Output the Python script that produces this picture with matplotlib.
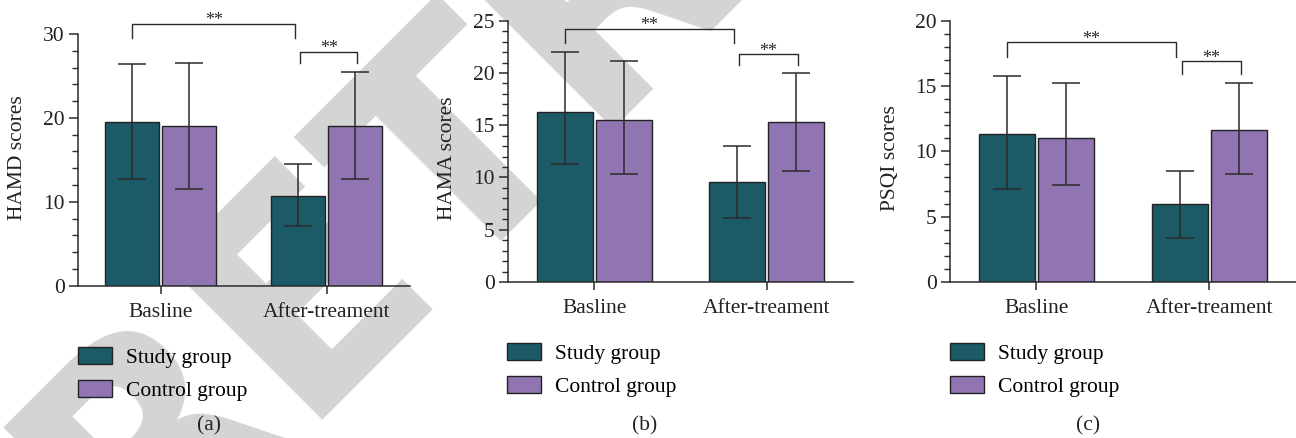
import numpy as np
import matplotlib
matplotlib.use("Agg")
import matplotlib.pyplot as plt
from matplotlib.patches import Patch
from matplotlib.ticker import MultipleLocator

# data (bar height, error bar low end, error bar high end)
groups = ["Basline", "After-treament"]
series = ["Study group", "Control group"]

hamd_study = [19.5, 10.75]
hamd_study_lo = [12.75, 7.15]
hamd_study_hi = [26.4, 14.5]
hamd_ctrl = [19.0, 19.0]
hamd_ctrl_lo = [11.5, 12.75]
hamd_ctrl_hi = [26.6, 25.5]

hama_study = [16.25, 9.6]
hama_study_lo = [11.3, 6.1]
hama_study_hi = [22.0, 13.0]
hama_ctrl = [15.5, 15.3]
hama_ctrl_lo = [10.35, 10.65]
hama_ctrl_hi = [21.15, 20.0]

psqi_study = [11.3, 6.0]
psqi_study_lo = [7.15, 3.4]
psqi_study_hi = [15.75, 8.5]
psqi_ctrl = [11.0, 11.6]
psqi_ctrl_lo = [7.4, 8.3]
psqi_ctrl_hi = [15.25, 15.25]

STUDY = "#1b5a66"
CTRL = "#9175b2"
INK = "#2b2b2b"
FS = 15.5

plt.rcParams["font.family"] = ["Liberation Serif", "DejaVu Serif"]
plt.rcParams["axes.linewidth"] = 1.1
plt.rcParams["axes.edgecolor"] = INK

fig = plt.figure(figsize=(12.96, 4.38), dpi=100)

# grey RETRACTED watermark behind everything
fig.text(0.1016, -0.3318, "RETRACTED", rotation=45, rotation_mode="anchor",
         ha="left", va="baseline", fontsize=217, fontweight="bold", color="#d4d4d4",
         family="DejaVu Sans", zorder=-10)

panels = [
    dict(rect=[0.0600, 0.3477, 0.2564, 0.5747], ylabel="HAMD scores", ymax=30, major=10, minor=2,
         study=(hamd_study, hamd_study_lo, hamd_study_hi), ctrl=(hamd_ctrl, hamd_ctrl_lo, hamd_ctrl_hi),
         big=(29.55, 31.2), small=(26.6, 27.85), ylx=18, tag="(a)", tagx=209, legx=78, legy=347),
    dict(rect=[0.3920, 0.3562, 0.2660, 0.5965], ylabel="HAMA scores", ymax=25, major=5, minor=1,
         study=(hama_study, hama_study_lo, hama_study_hi), ctrl=(hama_ctrl, hama_ctrl_lo, hama_ctrl_hi),
         big=(22.85, 24.2), small=(20.75, 21.8), ylx=448, tag="(b)", tagx=645, legx=507, legy=343),
    dict(rect=[0.7330, 0.3562, 0.2670, 0.5965], ylabel="PSQI scores", ymax=20, major=5, minor=1,
         study=(psqi_study, psqi_study_lo, psqi_study_hi), ctrl=(psqi_ctrl, psqi_ctrl_lo, psqi_ctrl_hi),
         big=(17.25, 18.35), small=(15.9, 16.9), ylx=891, tag="(c)", tagx=1088, legx=950, legy=343),
]

x = np.arange(len(groups))
w = 0.325
off = w / 2 + 0.009

for p in panels:
    ax = fig.add_axes(p["rect"])
    ax.set_facecolor("none")
    for vals, xs, col in [(p["study"], x - off, STUDY), (p["ctrl"], x + off, CTRL)]:
        h, lo, hi = (np.array(v) for v in vals)
        ax.bar(xs, h, width=w, color=col, edgecolor="#222222", linewidth=1.0, zorder=2)
        ax.errorbar(xs, h, yerr=[h - lo, hi - h], fmt="none", ecolor=INK,
                    elinewidth=1.1, capsize=10, capthick=1.1, zorder=3)

    ax.set_xlim(-0.5, 1.5)
    ax.set_ylim(0, p["ymax"])
    ax.yaxis.set_major_locator(MultipleLocator(p["major"]))
    ax.yaxis.set_minor_locator(MultipleLocator(p["minor"]))
    ax.set_xticks(x)
    ax.set_xticklabels(groups)
    ax.spines["top"].set_visible(False)
    ax.spines["right"].set_visible(False)
    ax.tick_params(axis="y", which="major", length=6.5, width=1.1, color=INK, labelsize=FS,
                   labelcolor="#222222", pad=3)
    ax.tick_params(axis="y", which="minor", length=4.3, width=1.0, color=INK)
    ax.tick_params(axis="x", length=5.5, width=1.1, color=INK, labelsize=FS,
                   labelcolor="#222222", pad=7)

    # significance brackets
    leg, top = p["big"]
    bx = [-off, -off, 1 - off - 0.02, 1 - off - 0.02]
    ax.plot(bx, [leg, top, top, leg], color=INK, lw=1.0, clip_on=False)
    ax.annotate("**", ((bx[0] + bx[-1]) / 2, top), xytext=(0, -1), textcoords="offset points",
                ha="center", va="baseline", fontsize=13, color=INK, annotation_clip=False)
    leg, top = p["small"]
    sx = [1 - off + 0.01, 1 - off + 0.01, 1 + off + 0.01, 1 + off + 0.01]
    ax.plot(sx, [leg, top, top, leg], color=INK, lw=1.0, clip_on=False)
    ax.annotate("**", ((sx[0] + sx[-1]) / 2, top), xytext=(0, -1), textcoords="offset points",
                ha="center", va="baseline", fontsize=13, color=INK, annotation_clip=False)

    fig.text(p["ylx"] / 1296, 1 - 158 / 438, p["ylabel"], rotation=90, ha="center", va="center",
             fontsize=FS, color="#222222")
    fig.text(p["tagx"] / 1296, 1 - 426 / 438, p["tag"], ha="center", va="center",
             fontsize=FS, color="#222222")

    handles = [Patch(facecolor=STUDY, edgecolor="#222222", linewidth=1.0),
               Patch(facecolor=CTRL, edgecolor="#222222", linewidth=1.0)]
    ax.legend(handles, series, loc="upper left", frameon=False, fontsize=FS,
              bbox_to_anchor=(p["legx"] / 1296, 1 - p["legy"] / 438), bbox_transform=fig.transFigure,
              borderaxespad=0, borderpad=0, handlelength=1.6, handleheight=0.85,
              handletextpad=0.65, labelspacing=0.55)

fig.savefig("out.png", dpi=100)
